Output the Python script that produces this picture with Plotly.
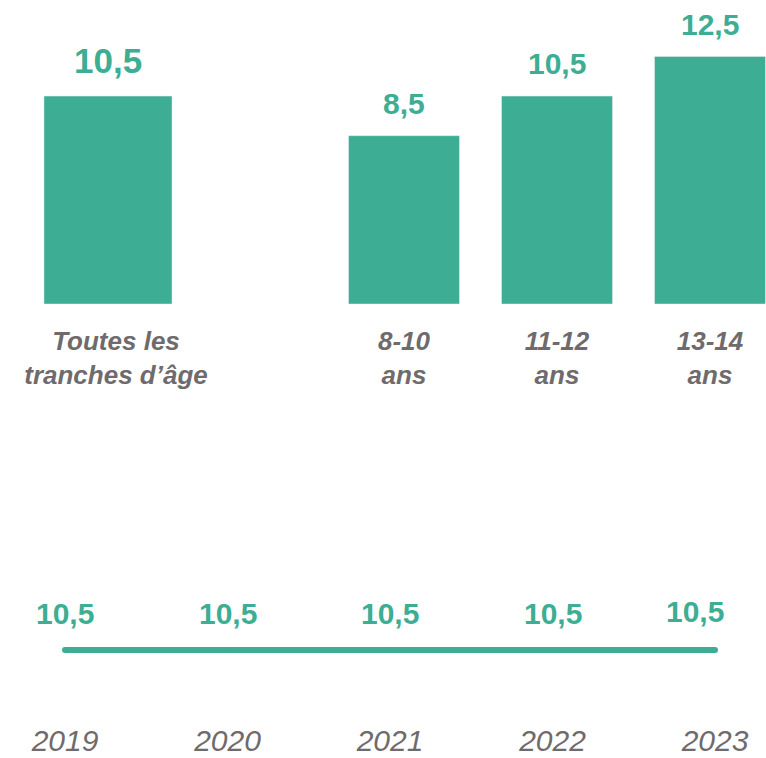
import plotly.graph_objects as go

# Data
overall_label = ["Toutes les<br>tranches d’âge"]
overall_value = [10.5]

age_groups = ["8-10<br>ans", "11-12<br>ans", "13-14<br>ans"]
age_values = [8.5, 10.5, 12.5]

years = [2019, 2020, 2021, 2022, 2023]
year_values = [10.5, 10.5, 10.5, 10.5, 10.5]

GREEN = "#3dad93"
GREY = "#6f6b6c"
FONT = "Arial, 'Liberation Sans', sans-serif"

W, H = 766, 758


def fmt(v):
    return f"{v:.1f}".replace(".", ",")


fig = go.Figure()

# Overall bar
fig.add_trace(go.Bar(x=overall_label, y=overall_value, marker_color=GREEN,
                     width=0.593, xaxis="x", yaxis="y", hoverinfo="skip"))
# Age group bars
fig.add_trace(go.Bar(x=age_groups, y=age_values, marker_color=GREEN,
                     width=0.725, xaxis="x2", yaxis="y2", hoverinfo="skip"))
# Yearly line
fig.add_trace(go.Scatter(x=years, y=year_values, mode="lines+markers",
                         line=dict(color=GREEN, width=6),
                         marker=dict(color=GREEN, size=6),
                         xaxis="x3", yaxis="y3", hoverinfo="skip"))

annotations = []
for c, v in zip(overall_label, overall_value):
    annotations.append(dict(x=c, y=v, xref="x", yref="y", text=fmt(v),
                            showarrow=False, yanchor="bottom", yshift=14,
                            font=dict(family=FONT, size=35, color=GREEN, weight="bold")))
for c, v in zip(age_groups, age_values):
    annotations.append(dict(x=c, y=v, xref="x2", yref="y2", text=fmt(v),
                            showarrow=False, yanchor="bottom", yshift=14,
                            font=dict(family=FONT, size=30, color=GREEN, weight="bold")))
for i, (yr, v) in enumerate(zip(years, year_values)):
    last = i == len(years) - 1
    annotations.append(dict(x=yr, y=v, xref="x3", yref="y3", text=fmt(v),
                            showarrow=False, yanchor="bottom",
                            yshift=20 if last else 18, xshift=-20 if last else 0,
                            font=dict(family=FONT, size=30, color=GREEN, weight="bold")))

top_bottom_px = 304
px_per_unit = 19.8
top_domain = [(H - top_bottom_px) / H, 1]
top_range = [0, top_bottom_px / px_per_unit]

cat_font = dict(family=FONT, size=26, color=GREY, weight="bold", style="italic")

fig.update_layout(
    width=W, height=H,
    margin=dict(l=0, r=0, t=0, b=0, pad=0),
    paper_bgcolor="white", plot_bgcolor="white",
    showlegend=False,
    annotations=annotations,
    xaxis=dict(domain=[0, 216 / W], range=[-0.5, 0.5], showgrid=False, zeroline=False,
               showline=False, ticks="", tickfont=cat_font, ticklabelstandoff=19,
               ticklabelshift=8, automargin=False, fixedrange=True),
    yaxis=dict(domain=top_domain, range=top_range, visible=False, automargin=False,
               fixedrange=True),
    xaxis2=dict(domain=[327.5 / W, 1], range=[-0.5, (766 - 404) / 153],
                showgrid=False, zeroline=False, showline=False, ticks="",
                tickfont=cat_font, ticklabelstandoff=19, anchor="y2",
                automargin=False, fixedrange=True),
    yaxis2=dict(domain=top_domain, range=top_range, visible=False, anchor="x2",
                automargin=False, fixedrange=True),
    xaxis3=dict(domain=[0, 1], range=[2019 - 65 / 162.5, 2023 + 51 / 162.5],
                tickvals=years, ticktext=[str(y) for y in years],
                showgrid=False, zeroline=False, showline=False, ticks="",
                tickfont=dict(family=FONT, size=30, color=GREY, style="italic"),
                ticklabelstandoff=20, anchor="y3", automargin=False, fixedrange=True),
    yaxis3=dict(domain=[(H - 700) / H, (H - 600) / H], range=[9.5, 11.5],
                visible=False, anchor="x3", automargin=False, fixedrange=True),
)

fig.write_html("out.html", config={"displayModeBar": False})
